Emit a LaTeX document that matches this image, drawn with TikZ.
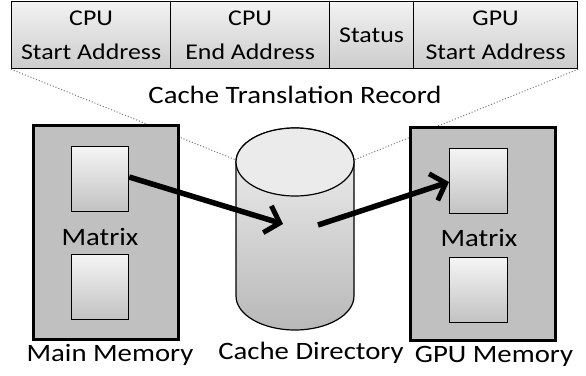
\documentclass[tikz,border=0pt]{standalone}
\usepackage{fontspec}
\setmainfont{Carlito}[FakeStretch=1.15]
\usetikzlibrary{arrows.meta}
\definecolor{memfill}{HTML}{C0C0C0}
\tikzset{
  cell/.style={draw=black, line width=1.2pt, top color=white!95!black, bottom color=white!80!black, anchor=north west, inner sep=0pt, align=center, font=\fontsize{22.5}{34}\selectfont},
  membox/.style={draw=black, line width=3pt, fill=memfill, anchor=north west, inner sep=0pt},
  matbox/.style={draw=black, line width=1.2pt, top color=white!96!black, bottom color=white!76!black, anchor=north west, inner sep=0pt},
  lbl/.style={font=\fontsize{25}{29}\selectfont, inner sep=0pt},
  dots/.style={draw=black!55, line width=1pt, dotted},
  flow/.style={line width=5.5pt, -{Straight Barb[length=13pt,width=28pt,line width=5pt]}}
}
\begin{document}
\begin{tikzpicture}[x=1pt,y=-1pt]
\useasboundingbox (0,0) rectangle (586,375);
% record cells
\node[cell, minimum width=159pt, minimum height=67pt] (c1) at (11,1) {CPU\\Start Address};
\node[cell, minimum width=159pt, minimum height=67pt] (c2) at (170,1) {CPU\\End Address};
\node[cell, minimum width=84pt, minimum height=67pt] (c3) at (329,1) {Status};
\node[cell, minimum width=164pt, minimum height=67pt] (c4) at (413,1) {GPU\\Start Address};
\node[lbl] (rec) at (295,95) {Cache Translation Record};
% cylinder
\coordinate (cyltl) at (236,160);
\coordinate (cyltr) at (354,160);
\path[top color=white!95!black, bottom color=white!72!black, draw=black, line width=1.2pt]
  (236,162) -- (236,296) arc[start angle=180, end angle=360, x radius=59, y radius=-34] -- (354,162) arc[start angle=0, end angle=180, x radius=59, y radius=-34] -- cycle;
\draw[line width=1.2pt, fill=white!92!black] (295,162) ellipse[x radius=59, y radius=34];
\coordinate (cylin) at (283,224);
\coordinate (cylout) at (318,225);
\node[lbl] (cdir) at (311,353) {Cache Directory};
% dotted connectors
\draw[dots] (c1.south west) -- (cyltl);
\draw[dots] (c4.south east) -- (cyltr);
% main memory
\node[membox, minimum width=145pt, minimum height=214pt] (mm) at (32,124) {};
\node[matbox, minimum width=57pt, minimum height=65pt] (mm1) at (71,146) {};
\node[matbox, minimum width=57pt, minimum height=65pt] (mm2) at (71,254) {};
\node[lbl] (mmx) at (100,237) {Matrix};
\node[lbl] (mml) at (110,355) {Main Memory};
% GPU memory
\node[membox, minimum width=145pt, minimum height=213pt] (gm) at (409,126) {};
\node[matbox, minimum width=58pt, minimum height=65pt] (gm1) at (449,148) {};
\node[matbox, minimum width=58pt, minimum height=65pt] (gm2) at (449,257) {};
\node[lbl] (gmx) at (479,238) {Matrix};
\node[lbl] (gml) at (494,356) {GPU Memory};
% arrows
\draw[flow] (mm1.east |- 0,177) -- (cylin);
\draw[flow] (cylout) -- (gm1.west |- 0,182);
\end{tikzpicture}
\end{document}
